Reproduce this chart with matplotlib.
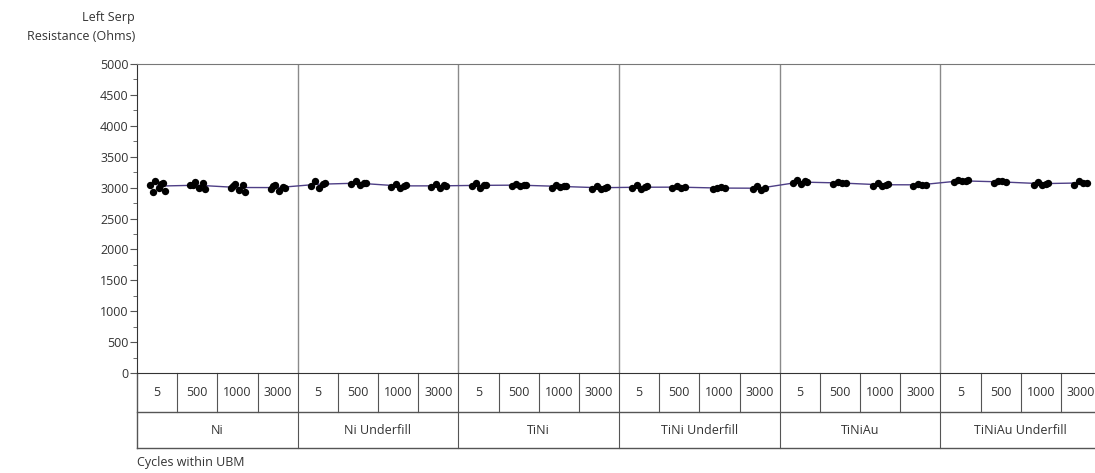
# coding: utf-8
import matplotlib
matplotlib.use("Agg")
import matplotlib.pyplot as plt
import matplotlib.transforms as mtransforms
import numpy as np

plt.rcParams['font.family'] = ['Open Sans', 'DejaVu Sans']

# # # # # # # # # # # # # # # # # # # # # # # # # # # # # # # # # # # #
# data
# # # # # # # # # # # # # # # # # # # # # # # # # # # # # # # # # # # #
ubm = ["Ni", "Ni Underfill", "TiNi", "TiNi Underfill", "TiNiAu", "TiNiAu Underfill"]
cycles = ["5", "500", "1000", "3000"]

ni = [[3100, 3080, 3050, 3000, 2950, 2930, 3060],
      [3090, 3070, 3040, 3000, 2980, 3050],
      [3060, 3040, 3000, 2960, 2930, 3020],
      [3040, 3010, 2980, 2950, 3000, 3020]]
ni_uf = [[3100, 3060, 3030, 3000, 3080],
         [3100, 3080, 3060, 3050, 3070],
         [3060, 3030, 3010, 3000, 3040],
         [3060, 3040, 3010, 3000, 3030]]
tini = [[3070, 3040, 3020, 3000, 3050],
        [3060, 3040, 3020, 3030, 3050],
        [3040, 3020, 3000, 3010, 3030],
        [3030, 3000, 2980, 2970, 3010]]
tini_uf = [[3040, 3010, 2990, 2970, 3020],
           [3030, 3010, 2990, 3000],
           [3000, 2990, 2970, 3010],
           [3030, 3000, 2970, 2960]]
tiniau = [[3120, 3100, 3080, 3060, 3090],
          [3090, 3070, 3060, 3080],
          [3070, 3050, 3030, 3020, 3060],
          [3060, 3040, 3030, 3050]]
tiniau_uf = [[3130, 3110, 3090, 3100, 3120],
             [3110, 3090, 3070, 3100],
             [3090, 3060, 3040, 3050, 3080],
             [3100, 3070, 3050, 3080]]

groups = [ni, ni_uf, tini, tini_uf, tiniau, tiniau_uf]

# horizontal spread of points inside a cell (cell units)
spread = [-0.06, 0.14, -0.17, 0.04, 0.19, -0.11, 0.09]


def main():
    W, H = 1095, 473
    fig = plt.figure(figsize=(W / 100, H / 100), dpi=100)

    left, right, top, bottom = 137, 1101, 64, 373
    ax = fig.add_axes([left / W, 1 - bottom / H, (right - left) / W, (bottom - top) / H])

    n_cells = len(ubm) * len(cycles)
    ax.set_xlim(0, n_cells)
    ax.set_ylim(0, 5000)

    # points and cell means
    means_x, means_y = [], []
    for g, grp in enumerate(groups):
        for c, vals in enumerate(grp):
            xc = g * len(cycles) + c + 0.5
            xs = [xc + spread[i % len(spread)] for i in range(len(vals))]
            ax.scatter(xs, vals, s=28, color="black", zorder=3, linewidths=0)
            means_x.append(xc)
            means_y.append(np.mean(vals))
    ax.plot(means_x, means_y, color="#4e3f86", lw=1, zorder=2)

    # group separators
    for g in range(1, len(ubm)):
        ax.axvline(g * len(cycles), color="#8a8a8a", lw=1, zorder=1)

    ax.set_xticks([])
    ax.set_yticks(np.arange(0, 5001, 500))
    ax.set_yticks(np.arange(250, 5000, 500), minor=True)
    ax.tick_params(axis="y", which="major", length=5, color="#555555",
                   labelsize=9, labelcolor="#333333", pad=1)
    ax.tick_params(axis="y", which="minor", length=3, color="#555555")
    for side in ["left", "bottom"]:
        ax.spines[side].set_color("#333333")
    for side in ["top", "right"]:
        ax.spines[side].set_color("#777777")

    # axis title
    fig.text(135 / W, 1 - 17 / H, "Left Serp", ha="right", va="center",
             fontsize=9, color="#333333")
    fig.text(135 / W, 1 - 37 / H, "Resistance (Ohms)", ha="right", va="center",
             fontsize=9, color="#333333")

    # table of x levels below plot
    tr = mtransforms.blended_transform_factory(ax.transData, fig.transFigure)
    y0, y1, y2 = 1 - bottom / H, 1 - 412 / H, 1 - 448 / H
    lc = "#555555"
    ax.plot([0, n_cells], [y1, y1], transform=tr, color=lc, lw=1, clip_on=False)
    ax.plot([0, n_cells], [y2, y2], transform=tr, color=lc, lw=1, clip_on=False)
    ax.plot([0, 0], [y0, y2], transform=tr, color=lc, lw=1, clip_on=False)
    for k in range(1, n_cells + 1):
        ytop = y2 if k % len(cycles) == 0 else y1
        ax.plot([k, k], [y0, ytop], transform=tr, color=lc, lw=0.8, clip_on=False)
    for g, name in enumerate(ubm):
        for c, lab in enumerate(cycles):
            ax.text(g * len(cycles) + c + 0.5, (y0 + y1) / 2, lab, transform=tr,
                    ha="center", va="center", fontsize=9, color="#333333")
        ax.text(g * len(cycles) + len(cycles) / 2, (y1 + y2) / 2, name, transform=tr,
                ha="center", va="center", fontsize=9, color="#333333")

    fig.text(137 / W, 1 - 462 / H, "Cycles within UBM", ha="left", va="center",
             fontsize=9, color="#333333")

    fig.savefig("out.png", dpi=100)
    plt.close(fig)


if __name__ == '__main__':
    main()
